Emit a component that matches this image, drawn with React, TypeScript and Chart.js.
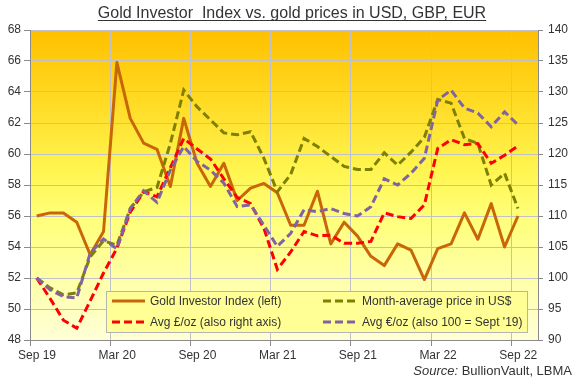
import React, { useEffect, useRef } from 'react';
import { Chart, registerables } from 'chart.js';

Chart.register(...registerables);

// Monthly data, Sep 2019 .. Sep 2022 (37 months)
const xTickLabels = ['Sep 19', 'Mar 20', 'Sep 20', 'Mar 21', 'Sep 21', 'Mar 22', 'Sep 22'];
const xTickValues = [0, 6, 12, 18, 24, 30, 36];

const goldInvestorIndex = [
  56.0, 56.2, 56.2, 55.6, 53.5, 55.0, 65.9, 62.3, 60.7, 60.3,
  57.9, 62.3, 59.4, 57.9, 59.4, 57.0, 57.8, 58.1, 57.5, 55.4,
  55.4, 57.6, 54.2, 55.6, 54.7, 53.4, 52.8, 54.2, 53.8, 51.9,
  53.9, 54.2, 56.2, 54.5, 56.8, 54.0, 56.0,
];

const usdPrice = [
  100.0, 98.4, 97.3, 97.6, 103.4, 106.0, 105.3, 111.2, 113.9, 114.6,
  121.7, 130.3, 127.6, 125.5, 123.4, 123.1, 123.6, 119.3, 113.9, 116.7,
  122.5, 121.2, 119.6, 118.0, 117.5, 117.5, 120.2, 118.2, 120.3, 122.7,
  128.8, 128.2, 122.5, 121.7, 115.0, 116.9, 111.2,
];

const gbpPrice = [
  100.0, 96.7, 93.2, 91.9, 96.3, 100.8, 104.8, 110.6, 113.9, 113.1,
  117.8, 122.5, 120.8, 119.2, 116.0, 113.0, 112.0, 108.0, 101.4, 104.2,
  107.5, 106.8, 106.9, 105.6, 105.6, 105.9, 110.5, 109.9, 109.6, 111.8,
  120.9, 122.3, 121.5, 121.7, 118.5, 119.8, 121.3,
];

const eurPrice = [
  100.0, 98.1, 97.0, 96.8, 104.0, 106.3, 104.7, 111.2, 114.1, 112.2,
  117.4, 121.2, 118.8, 117.4, 115.3, 111.5, 111.8, 108.5, 105.1, 107.2,
  111.0, 110.7, 111.2, 110.4, 110.0, 111.5, 116.0, 115.0, 116.9, 119.3,
  128.7, 130.3, 127.4, 126.6, 124.4, 126.8, 124.7,
];

const titleText = 'Gold Investor  Index vs. gold prices in USD, GBP, EUR';
const legendLabels = [
  'Gold Investor Index (left)',
  'Month-average price in US$',
  'Avg £/oz (also right axis)',
  'Avg €/oz (also 100 = Sept \'19)',
];

const FONT = "'Liberation Sans', Arial, sans-serif";
const TEXT = '#333333';
const AXIS = '#8a8a8a';
const GRID = '#c0c0c8';

const C_ORANGE = '#c8660a';
const C_OLIVE = '#7f7f00';
const C_RED = '#ff0000';
const C_PURPLE = '#8064a2';

const toPoints = (arr: number[]) => arr.map((v, i) => ({ x: i + 0.5, y: v }));

export default function App() {
  const ref = useRef<HTMLCanvasElement | null>(null);

  useEffect(() => {
    const canvas = ref.current;
    if (!canvas) return;

    const bgPlugin = {
      id: 'bgGradient',
      beforeDraw(chart: any) {
        const { ctx, chartArea } = chart;
        ctx.save();
        ctx.fillStyle = '#ffffff';
        ctx.fillRect(0, 0, chart.width, chart.height);
        const g = ctx.createLinearGradient(0, chartArea.top, 0, chartArea.bottom);
        g.addColorStop(0, 'rgb(255,192,0)');
        g.addColorStop(0.2, 'rgb(255,215,30)');
        g.addColorStop(0.45, 'rgb(255,245,80)');
        g.addColorStop(0.6, 'rgb(255,255,120)');
        g.addColorStop(1, 'rgb(255,255,215)');
        ctx.fillStyle = g;
        ctx.fillRect(chartArea.left, chartArea.top, chartArea.right - chartArea.left, chartArea.bottom - chartArea.top);
        ctx.restore();
      },
    };

    const overlayPlugin = {
      id: 'overlay',
      afterDraw(chart: any) {
        const { ctx } = chart;
        ctx.save();
        // Title
        ctx.font = `16px ${FONT}`;
        ctx.fillStyle = TEXT;
        ctx.textAlign = 'center';
        ctx.textBaseline = 'alphabetic';
        const tx = 292;
        const ty = 18;
        ctx.fillText(titleText, tx, ty);
        const tw = ctx.measureText(titleText).width;
        ctx.strokeStyle = TEXT;
        ctx.lineWidth = 1;
        ctx.beginPath();
        ctx.moveTo(tx - tw / 2, ty + 2.5);
        ctx.lineTo(tx + tw / 2, ty + 2.5);
        ctx.stroke();

        // Legend box
        const bx = 106.5, by = 291.5, bw = 421, bh = 41;
        ctx.fillStyle = 'rgb(255,255,150)';
        ctx.fillRect(bx, by, bw, bh);
        ctx.strokeStyle = '#b4b4b4';
        ctx.lineWidth = 1;
        ctx.strokeRect(bx, by, bw, bh);

        const items = [
          { x1: 112, x2: 145, tx: 150, y: 301, color: C_ORANGE, dash: [] as number[], label: legendLabels[0] },
          { x1: 323, x2: 356, tx: 362, y: 301, color: C_OLIVE, dash: [8, 4], label: legendLabels[1] },
          { x1: 112, x2: 145, tx: 150, y: 322, color: C_RED, dash: [8, 4], label: legendLabels[2] },
          { x1: 323, x2: 356, tx: 362, y: 322, color: C_PURPLE, dash: [8, 4], label: legendLabels[3] },
        ];
        ctx.font = `12px ${FONT}`;
        ctx.textAlign = 'left';
        ctx.textBaseline = 'middle';
        for (const it of items) {
          ctx.strokeStyle = it.color;
          ctx.lineWidth = 3;
          ctx.setLineDash(it.dash);
          ctx.beginPath();
          ctx.moveTo(it.x1, it.y);
          ctx.lineTo(it.x2, it.y);
          ctx.stroke();
          ctx.setLineDash([]);
          ctx.fillStyle = TEXT;
          ctx.fillText(it.label, it.tx, it.y + 0.5);
        }

        // Source
        ctx.textBaseline = 'alphabetic';
        ctx.textAlign = 'right';
        ctx.font = `13px ${FONT}`;
        const rest = ' BullionVault, LBMA';
        const rx = 572, ry = 375;
        ctx.fillText(rest, rx, ry);
        const rw = ctx.measureText(rest).width;
        ctx.font = `italic 13px ${FONT}`;
        ctx.fillText('Source:', rx - rw, ry);
        ctx.restore();
      },
    };

    const tickFont = { family: FONT, size: 12 };

    const chart = new Chart(canvas, {
      type: 'line',
      data: {
        datasets: [
          {
            label: legendLabels[3],
            data: toPoints(eurPrice),
            yAxisID: 'y1',
            borderColor: C_PURPLE,
            borderWidth: 3,
            borderDash: [8, 4],
            pointRadius: 0,
            tension: 0,
            order: 1,
          },
          {
            label: legendLabels[2],
            data: toPoints(gbpPrice),
            yAxisID: 'y1',
            borderColor: C_RED,
            borderWidth: 3,
            borderDash: [8, 4],
            pointRadius: 0,
            tension: 0,
            order: 2,
          },
          {
            label: legendLabels[1],
            data: toPoints(usdPrice),
            yAxisID: 'y1',
            borderColor: C_OLIVE,
            borderWidth: 3,
            borderDash: [8, 4],
            pointRadius: 0,
            tension: 0,
            order: 3,
          },
          {
            label: legendLabels[0],
            data: toPoints(goldInvestorIndex),
            yAxisID: 'y',
            borderColor: C_ORANGE,
            borderWidth: 3,
            borderJoinStyle: 'round',
            pointRadius: 0,
            tension: 0,
            order: 4,
          },
        ],
      },
      options: {
        animation: false,
        responsive: false,
        devicePixelRatio: 1,
        layout: { padding: { top: 30, left: 0, right: 0, bottom: 0 } },
        plugins: {
          legend: { display: false },
          title: { display: false },
          tooltip: { enabled: false },
        },
        scales: {
          x: {
            type: 'linear',
            min: 0,
            max: 38,
            afterBuildTicks: (axis: any) => {
              axis.ticks = xTickValues.map((v) => ({ value: v }));
            },
            afterFit: (s: any) => {
              s.height = 41;
            },
            ticks: {
              callback: (_v: any, i: number) => xTickLabels[i],
              font: tickFont,
              color: TEXT,
              labelOffset: 7,
              padding: 2,
              maxRotation: 0,
              autoSkip: false,
            },
            grid: { color: GRID, tickColor: AXIS, tickLength: 6, lineWidth: 1 },
            border: { display: true, color: AXIS, width: 1 },
          },
          y: {
            type: 'linear',
            position: 'left',
            min: 48,
            max: 68,
            afterFit: (s: any) => {
              s.width = 30;
            },
            ticks: { stepSize: 2, font: tickFont, color: TEXT, padding: 3 },
            grid: { color: GRID, tickColor: AXIS, tickLength: 6 },
            border: { display: true, color: AXIS, width: 1 },
          },
          y1: {
            type: 'linear',
            position: 'right',
            min: 90,
            max: 140,
            afterFit: (s: any) => {
              s.width = 40;
            },
            ticks: { stepSize: 5, font: tickFont, color: TEXT, padding: 5 },
            grid: { drawOnChartArea: false, tickColor: AXIS, tickLength: 5 },
            border: { display: true, color: AXIS, width: 1 },
          },
        },
      },
      plugins: [bgPlugin, overlayPlugin],
    } as any);

    return () => {
      chart.destroy();
    };
  }, []);

  return (
    <div style={{ position: 'absolute', left: 0, top: 0, width: 578, height: 381, background: '#ffffff' }}>
      <canvas ref={ref} width={578} height={381} style={{ display: 'block', width: 578, height: 381 }} />
    </div>
  );
}
